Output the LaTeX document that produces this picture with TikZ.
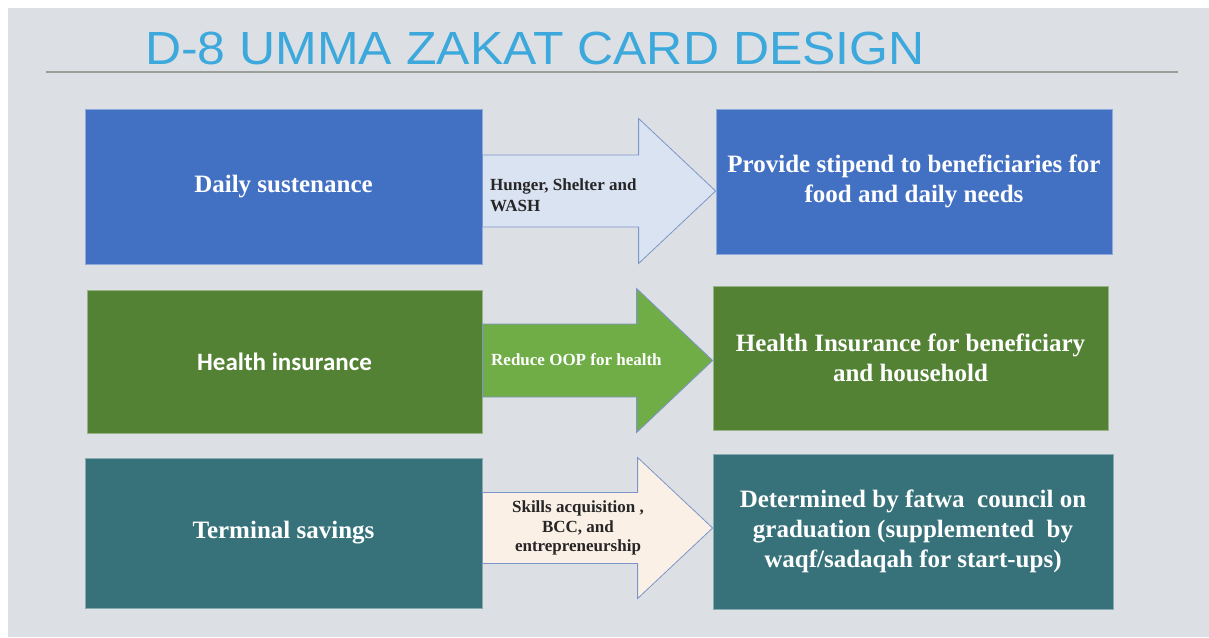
\documentclass[tikz,border=0pt]{standalone}
\usepackage{fontspec}
\setmainfont{Liberation Serif}
\newfontfamily\titlefont{Liberation Sans}
\newfontfamily\calfont{Carlito}
\usetikzlibrary{calc}
\definecolor{bgc}{HTML}{DCE0E4}
\definecolor{titleblue}{HTML}{3CA8DC}
\definecolor{rulec}{HTML}{9B9E99}
\definecolor{boxblue}{HTML}{4270C3}
\definecolor{boxgreen}{HTML}{548235}
\definecolor{boxteal}{HTML}{37727A}
\definecolor{arrblue}{HTML}{DAE3F2}
\definecolor{arrgreen}{HTML}{70AD47}
\definecolor{arrpeach}{HTML}{FBF0E6}
\definecolor{arredge}{HTML}{7E95C9}
\definecolor{darktext}{HTML}{262626}
\newcommand{\blockarr}[6]{%
  \draw[#1] let \p1=(#2), \p2=(#3) in
    (\x1,\y1+#4) -- (\x2-#6,\y1+#4) -- (\x2-#6,\y1+#5) -- (\x2,\y1)
    -- (\x2-#6,\y1-#5) -- (\x2-#6,\y1-#4) -- (\x1,\y1-#4) -- cycle;}
\tikzset{
  card/.style={draw=#1!60!white, fill=#1, line width=0.8pt, inner sep=0pt,
    text=white, align=center, font=\fontsize{25}{30}\selectfont\bfseries},
  arrowshape/.style={draw=arredge, line width=0.8pt, fill=#1},
  arrtext/.style={font=\fontsize{17}{20.5}\selectfont\bfseries, inner sep=0pt},
}
\begin{document}
\begin{tikzpicture}[x=1pt,y=-1pt]
\useasboundingbox (0,0) rectangle (1209,637);
\fill[bgc] (8,8) rectangle (1209,637);
% title
\node[anchor=base west, inner sep=0pt, text=titleblue,
  font=\titlefont\fontsize{46.5}{50}\selectfont] (title) at (145,64)
  {\scalebox{1.075}[1]{D-8 UMMA ZAKAT CARD DESIGN}};
\coordinate (ruleL) at (46,72);
\coordinate (ruleR) at (1178,72);
\draw[rulec, line width=2pt] (ruleL) -- (ruleR);
% row 1
\node[card=boxblue, minimum width=397pt, minimum height=155pt] (L1) at (283.5,186.5)
  {Daily sustenance};
\node[card=boxblue, minimum width=396pt, minimum height=145pt] (R1) at (914,181.5)
  {Provide stipend to beneficiaries for\\food and daily needs};
\blockarr{arrowshape=arrblue}{L1.east |- 0,191}{R1.west |- 0,191}{36pt}{72.5pt}{77pt}
\node[arrtext, text=darktext, align=left, anchor=west] (T1) at (490,195)
  {Hunger, Shelter and\\WASH};
% row 2
\node[card=boxgreen, minimum width=395pt, minimum height=143pt,
  font=\calfont\fontsize{25}{30}\selectfont\bfseries] (L2) at (284.5,361.5)
  {Health insurance};
\node[card=boxgreen, minimum width=395pt, minimum height=144pt] (R2) at (910.5,358)
  {Health Insurance for beneficiary\\and household};
\blockarr{arrowshape=arrgreen}{L2.east |- 0,360.5}{R2.west |- 0,360.5}{36.5pt}{72pt}{76pt}
\node[arrtext, text=white, anchor=west] (T2) at (491,360)
  {Reduce OOP for health};
% row 3
\node[card=boxteal, minimum width=397pt, minimum height=150pt] (L3) at (283.5,533)
  {Terminal savings};
\node[card=boxteal, minimum width=400pt, minimum height=155pt] (R3) at (913,531.5)
  {Determined by fatwa\ \ council on\\graduation (supplemented\ \ by\\waqf/sadaqah for start-ups)};
\blockarr{arrowshape=arrpeach}{L3.east |- 0,528}{R3.west |- 0,528}{35.5pt}{70.5pt}{75pt}
\node[arrtext, text=darktext, align=center, font=\fontsize{17}{19.5}\selectfont\bfseries] (T3) at (578,528)
  {Skills acquisition ,\\BCC, and\\entrepreneurship};
\end{tikzpicture}
\end{document}
